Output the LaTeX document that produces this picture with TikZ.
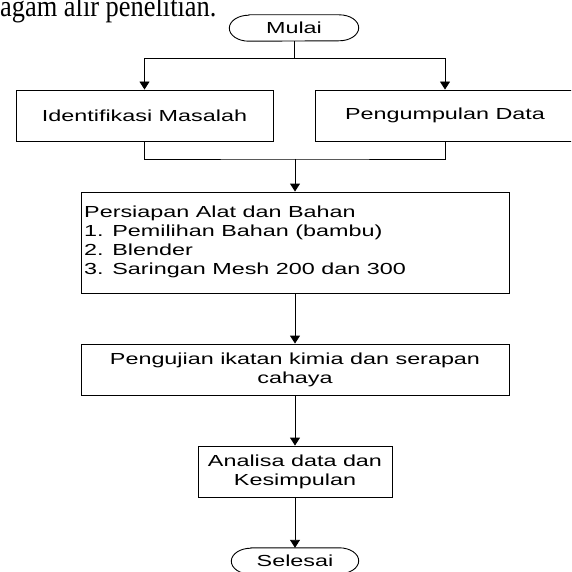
\documentclass[tikz,border=0pt]{standalone}
\usepackage{fontspec}
\setmainfont{Liberation Sans}[FakeStretch=1.46]
\newfontfamily\topfont{Liberation Serif}[FakeStretch=0.88]
\usetikzlibrary{arrows.meta}
\begin{document}
\begin{tikzpicture}[x=1pt,y=-1pt,
  box/.style={draw=black, line width=0.9pt, inner sep=0pt, font=\fontsize{16}{19}\selectfont, align=center},
  term/.style={inner sep=0pt, font=\fontsize{16}{19}\selectfont},
  txt/.style={inner sep=0pt, font=\fontsize{16}{19}\selectfont, align=left},
  conn/.style={draw=black, line width=0.9pt},
  flow/.style={conn, -{Triangle[width=10pt,length=8pt]}}]
\useasboundingbox (0,0) rectangle (571,572);
\clip (0,0) rectangle (571,572);
% caption fragment
\node[font=\topfont\fontsize{30}{36}\selectfont, anchor=base west, inner sep=0pt] (cap) at (0,17) {agam alir penelitian.};
% terminators
\node[term, minimum width=129pt, minimum height=26pt] (M) at (294,28) {Mulai};
\draw[conn] ([xshift=19.5pt]M.north west) -- ([xshift=-19.5pt]M.north east)
  arc[start angle=90, end angle=-90, x radius=19.5pt, y radius=13pt]
  -- ([xshift=19.5pt]M.south west)
  arc[start angle=270, end angle=90, x radius=19.5pt, y radius=13pt] -- cycle;
\node[term, minimum width=127pt, minimum height=26pt] (S) at (295,561) {Selesai};
\draw[conn] ([xshift=19.5pt]S.north west) -- ([xshift=-19.5pt]S.north east)
  arc[start angle=90, end angle=-90, x radius=19.5pt, y radius=13pt]
  -- ([xshift=19.5pt]S.south west)
  arc[start angle=270, end angle=90, x radius=19.5pt, y radius=13pt] -- cycle;
% boxes
\node[box, minimum width=257pt, minimum height=51pt] (IM) at (144.5,115.5) {Identifikasi Masalah};
\node[box, minimum width=260pt, minimum height=51pt] (PD) at (445,115.5) {Pengumpulan Data};
\node[box, minimum width=428pt, minimum height=101pt] (PA) at (295,242.5) {};
\node[txt, anchor=north west] (PAt) at (84,206) {Persiapan Alat dan Bahan\\1. Pemilihan Bahan (bambu)\\2. Blender\\3. Saringan Mesh 200 dan 300};
\node[box, minimum width=428pt, minimum height=51pt] (PK) at (295,369.5) {Pengujian ikatan kimia dan serapan\\cahaya};
\node[box, minimum width=194pt, minimum height=51pt] (AD) at (295,471.5) {Analisa data dan\\Kesimpulan};
% connectors
\coordinate (split) at (294,58);
\coordinate (merge) at (295,159);
\draw[conn] (M.south) -- (split);
\draw[flow] (split) -| (IM.north);
\draw[flow] (split) -| (PD.north);
\draw[conn] (IM.south) |- (merge) -| (PD.south);
\draw[flow] (merge) -- (PA.north);
\draw[flow] (PA.south) -- (PK.north);
\draw[flow] (PK.south) -- (AD.north);
\draw[flow] (AD.south) -- (S.north);
\end{tikzpicture}
\end{document}
